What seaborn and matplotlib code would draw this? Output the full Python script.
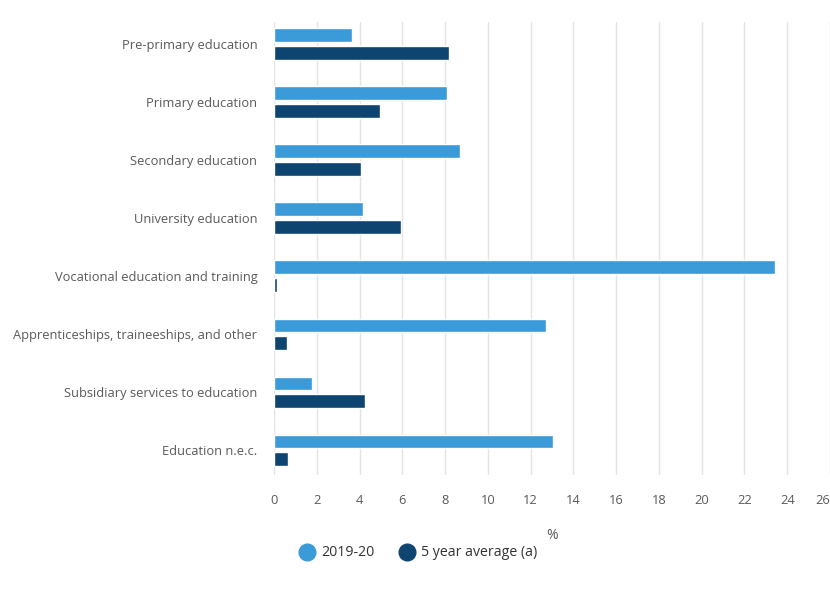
import matplotlib
matplotlib.use("Agg")
import matplotlib.pyplot as plt
import seaborn as sns
import pandas as pd
from matplotlib.lines import Line2D

categories = [
    "Pre-primary education",
    "Primary education",
    "Secondary education",
    "University education",
    "Vocational education and training",
    "Apprenticeships, traineeships, and other",
    "Subsidiary services to education",
    "Education n.e.c.",
]
series_names = ["2019-20", "5 year average (a)"]
values_2019_20 = [3.67, 8.1, 8.7, 4.17, 23.45, 12.7, 1.76, 13.05]
values_5yr_avg = [8.2, 4.95, 4.05, 5.92, 0.16, 0.59, 4.27, 0.67]
x_ticks = list(range(0, 27, 2))

colors = ["#3b9ad8", "#0e4470"]
text_color = "#5a5a5a"

df = pd.DataFrame({
    "category": categories * 2,
    "series": [series_names[0]] * len(categories) + [series_names[1]] * len(categories),
    "value": values_2019_20 + values_5yr_avg,
})

sns.set_theme(style="white")
plt.rcParams["font.family"] = ["Open Sans", "DejaVu Sans"]

fig = plt.figure(figsize=(8.3, 5.95), dpi=100)
ax = fig.add_axes([274 / 830, 1 - 475 / 595, (830 - 274) / 830, (475 - 22) / 595])

sns.barplot(
    data=df, y="category", x="value", hue="series", order=categories,
    hue_order=series_names, palette=colors, orient="h",
    width=0.62, gap=0.27, ax=ax, legend=False, saturation=1,
)

ax.set_xlim(0, 26)
ax.set_ylim(len(categories) - 1 + 0.43, -0.38)
ax.set_xticks(x_ticks)
ax.set_xticklabels([str(t) for t in x_ticks])
labs = ax.get_xticklabels()
labs[-1].set_horizontalalignment("right")
ax.grid(axis="x", color="#e4e4e4", linewidth=1)
ax.set_axisbelow(True)
for s in ax.spines.values():
    s.set_visible(False)
ax.tick_params(axis="both", length=0, colors=text_color, labelsize=9.3)
ax.tick_params(axis="x", pad=14)
ax.tick_params(axis="y", pad=12)
ax.set_ylabel("")
ax.set_xlabel("%", color=text_color, fontsize=10, labelpad=15)

handles = [
    Line2D([0], [0], marker="o", linestyle="", markersize=12,
           markerfacecolor=c, markeredgecolor=c) for c in colors
]
fig.legend(handles, series_names, loc="center left", bbox_to_anchor=(280 / 830, 1 - 553 / 595),
           ncol=2, frameon=False, handletextpad=0.0, columnspacing=1.3,
           fontsize=10.2, labelcolor="#333333")

fig.savefig("out.png", dpi=100)
